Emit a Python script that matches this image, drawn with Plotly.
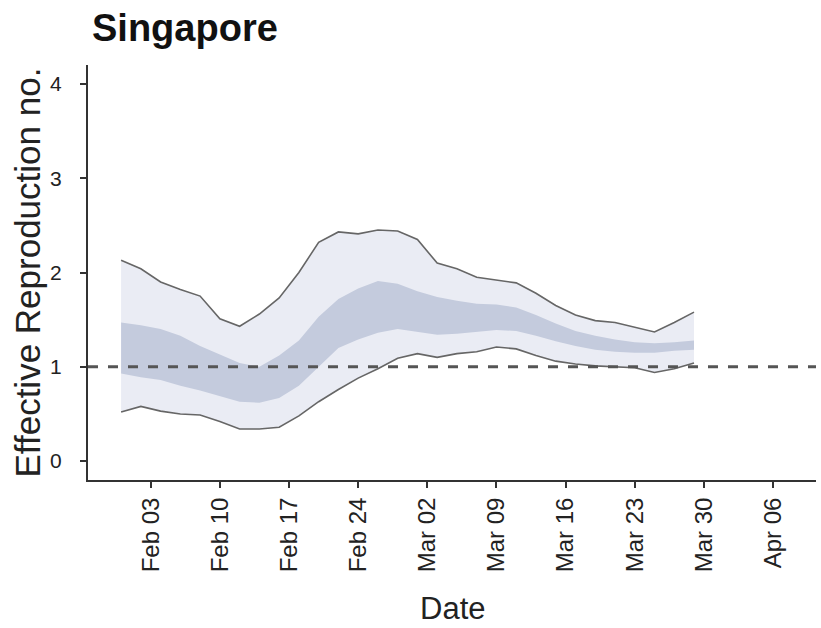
import plotly.graph_objects as go

# Estimated effective reproduction number, Singapore (every second day)
dates = [
    "2020-01-31", "2020-02-02", "2020-02-04", "2020-02-06", "2020-02-08",
    "2020-02-10", "2020-02-12", "2020-02-14", "2020-02-16", "2020-02-18",
    "2020-02-20", "2020-02-22", "2020-02-24", "2020-02-26", "2020-02-28",
    "2020-03-01", "2020-03-03", "2020-03-05", "2020-03-07", "2020-03-09",
    "2020-03-11", "2020-03-13", "2020-03-15", "2020-03-17", "2020-03-19",
    "2020-03-21", "2020-03-23", "2020-03-25", "2020-03-27", "2020-03-29",
]
upper_90 = [2.13, 2.04, 1.90, 1.82, 1.75, 1.51, 1.43, 1.56, 1.73, 2.00,
            2.32, 2.43, 2.41, 2.45, 2.44, 2.35, 2.10, 2.04, 1.95, 1.92,
            1.89, 1.78, 1.65, 1.55, 1.49, 1.47, 1.42, 1.37, 1.47, 1.58]
upper_50 = [1.47, 1.44, 1.40, 1.33, 1.22, 1.13, 1.04, 1.00, 1.12, 1.28,
            1.53, 1.72, 1.83, 1.91, 1.88, 1.80, 1.74, 1.70, 1.67, 1.66,
            1.63, 1.55, 1.46, 1.38, 1.33, 1.29, 1.26, 1.25, 1.26, 1.28]
lower_50 = [0.93, 0.89, 0.86, 0.80, 0.75, 0.69, 0.63, 0.62, 0.67, 0.80,
            1.00, 1.20, 1.29, 1.36, 1.40, 1.37, 1.34, 1.35, 1.37, 1.39,
            1.38, 1.33, 1.27, 1.22, 1.18, 1.16, 1.15, 1.15, 1.17, 1.18]
lower_90 = [0.52, 0.58, 0.53, 0.50, 0.49, 0.42, 0.34, 0.34, 0.36, 0.48,
            0.63, 0.76, 0.88, 0.98, 1.09, 1.14, 1.10, 1.14, 1.16, 1.21,
            1.19, 1.12, 1.06, 1.03, 1.01, 1.00, 0.99, 0.94, 0.98, 1.04]

tick_dates = ["2020-02-03", "2020-02-10", "2020-02-17", "2020-02-24",
              "2020-03-02", "2020-03-09", "2020-03-16", "2020-03-23",
              "2020-03-30", "2020-04-06"]
tick_labels = ["Feb 03", "Feb 10", "Feb 17", "Feb 24", "Mar 02",
               "Mar 09", "Mar 16", "Mar 23", "Mar 30", "Apr 06"]
y_ticks = [0, 1, 2, 3, 4]

FONT = "Liberation Sans, Arial, Helvetica, sans-serif"
OUTER_FILL = "#eaecf4"
INNER_FILL = "#c4cbdd"
OUTLINE = "#666666"

fig = go.Figure()

# 90% interval band
fig.add_trace(go.Scatter(x=dates, y=lower_90, mode="lines",
                         line=dict(width=0), hoverinfo="skip", showlegend=False))
fig.add_trace(go.Scatter(x=dates, y=upper_90, mode="lines", fill="tonexty",
                         fillcolor=OUTER_FILL, line=dict(width=0),
                         hoverinfo="skip", showlegend=False))
# 50% interval band
fig.add_trace(go.Scatter(x=dates, y=lower_50, mode="lines",
                         line=dict(width=0), hoverinfo="skip", showlegend=False))
fig.add_trace(go.Scatter(x=dates, y=upper_50, mode="lines", fill="tonexty",
                         fillcolor=INNER_FILL, line=dict(width=0),
                         hoverinfo="skip", showlegend=False))
# outline of the 90% band
for series in (upper_90, lower_90):
    fig.add_trace(go.Scatter(x=dates, y=series, mode="lines",
                             line=dict(color=OUTLINE, width=1.6),
                             hoverinfo="skip", showlegend=False))

# threshold R = 1
fig.add_hline(y=1, line=dict(color="#555555", width=3, dash="10px,10px"),
              layer="above")

fig.update_xaxes(
    type="date",
    range=["2020-01-27 15:36", "2020-04-10 08:24"],
    tickmode="array", tickvals=tick_dates, ticktext=tick_labels,
    tickangle=-90,
    tickfont=dict(family=FONT, size=24, color="#222222"),
    showline=True, linecolor="#333333", linewidth=2,
    ticks="outside", ticklen=6, tickwidth=1.5, tickcolor="#333333",
    ticklabelstandoff=0,
    showgrid=False, zeroline=False,
)
fig.update_yaxes(
    range=[-0.2, 4.2],
    tickmode="array", tickvals=y_ticks,
    tickfont=dict(family=FONT, size=21, color="#222222"),
    showline=True, linecolor="#333333", linewidth=2,
    ticks="outside", ticklen=6, tickwidth=1.5, tickcolor="#333333",
    ticklabelstandoff=14,
    showgrid=False, zeroline=False,
)

fig.update_layout(
    width=821, height=628,
    margin=dict(l=88, r=5, t=65, b=148),
    paper_bgcolor="white", plot_bgcolor="white",
    font=dict(family=FONT, color="#222222"),
    title=dict(text="<b>Singapore</b>", x=92 / 821, xanchor="left",
               y=1 - 28 / 628, yanchor="middle",
               font=dict(family=FONT, size=38, color="#111111")),
    annotations=[
        dict(text="Date", xref="paper", yref="paper", x=0.5, y=0,
             xanchor="center", yanchor="middle", yshift=-128,
             showarrow=False, font=dict(family=FONT, size=31, color="#222222")),
        dict(text="Effective Reproduction no.", xref="paper", yref="paper",
             x=0, y=0.5, xanchor="center", yanchor="middle", xshift=-61,
             textangle=-90, showarrow=False,
             font=dict(family=FONT, size=35, color="#222222")),
    ],
)

fig.write_html("out.html")
